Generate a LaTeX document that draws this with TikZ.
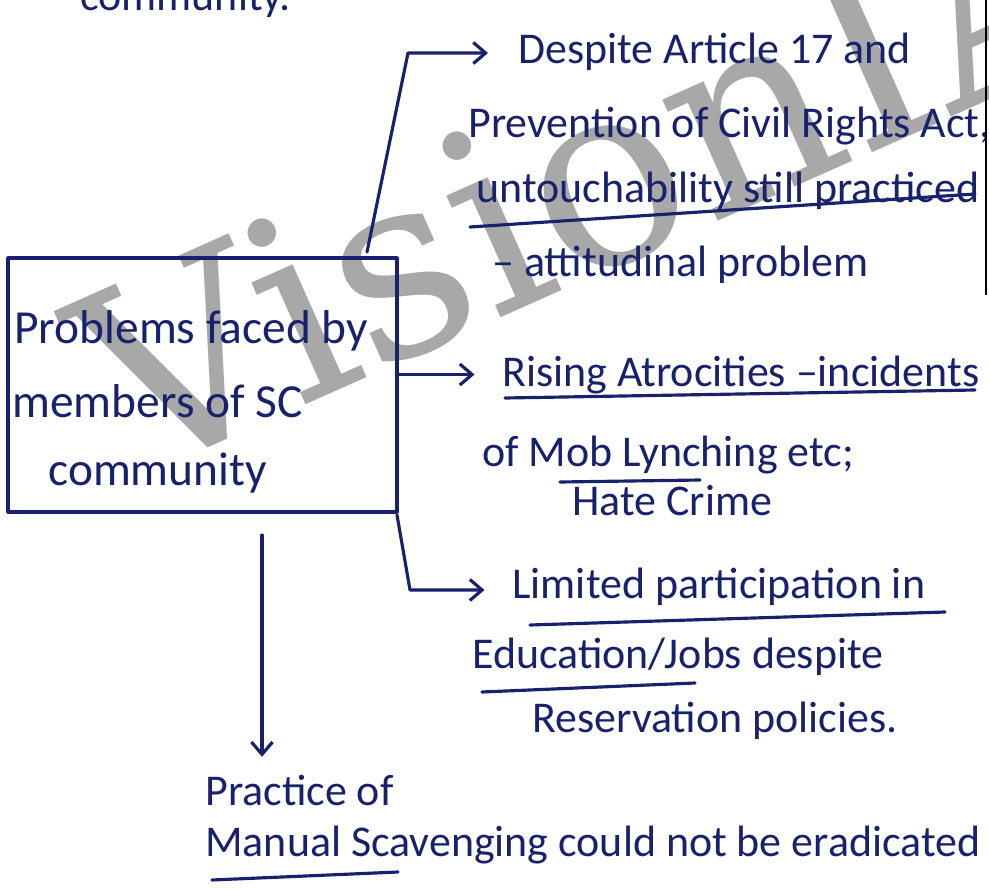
\documentclass[tikz,border=0pt]{standalone}
\usepackage{fontspec}
\setmainfont{Carlito}
\newfontfamily\wmfont{DejaVu Serif}
\usetikzlibrary{arrows.meta,fit,calc}
\definecolor{ink}{RGB}{24,34,108}
\definecolor{wmgray}{RGB}{168,168,168}
\tikzset{
  inkline/.style={draw=ink, line width=1.8pt, line cap=round, line join=round},
  conn/.style={inkline, -{Straight Barb[length=7pt,width=12pt]}},
  hand/.style={text=ink, inner sep=0pt, anchor=base west, font=\fontsize{25}{28}\selectfont},
  boxtext/.style={hand, font=\fontsize{27}{30}\selectfont},
  frame/.style={inkline, inner sep=0pt},
}
\begin{document}
\begin{tikzpicture}[x=0.02cm, y=-0.02cm]
\useasboundingbox (0,0) rectangle (989,888);
\clip (0,0) rectangle (989,888);
\fill[white] (0,0) rectangle (989,888);

% watermark
\node[rotate=24, anchor=base west, inner sep=0pt, text=wmgray,
      font=\fontsize{146}{146}\selectfont\wmfont] (wm) at (132,482) {VisionIAS};

% tail of the previous line
\node[hand] (prev) at (80,11) {community.};

% central box
\node[frame, draw=ink, fit={(8,258) (397,512)}] (box) {};
\node[boxtext] (b1) at (14,343) {Problems faced by};
\node[boxtext] (b2) at (12,417) {members of SC};
\node[boxtext] (b3) at (48,485) {community};

% first branch
\node[hand] (d1) at (518,64) {Despite Article 17 and};
\node[hand] (d2) at (468,138) {Prevention of Civil Rights Act,};
\node[hand] (d3) at (476,203) {untouchability still practiced};
\node[hand] (d4) at (492,276) {-- attitudinal problem};
\draw[inkline] (470,227) -- (975,194);

% second branch
\node[hand] (r1) at (502,386) {Rising Atrocities --incidents};
\node[hand] (r2) at (482,466) {of Mob Lynching etc;};
\node[hand] (r3) at (572,515) {Hate Crime};
\draw[inkline] (505,398) -- (975,390);
\draw[inkline] (560,482) -- (700,480);

% third branch
\node[hand] (l1) at (512,598) {Limited participation in};
\node[hand] (l2) at (472,668) {Education/Jobs despite};
\node[hand] (l3) at (532,732) {Reservation policies.};
\draw[inkline] (530,625) -- (945,612);
\draw[inkline] (482,692) -- (695,683);

% fourth branch
\node[hand] (p1) at (205,805) {Practice of};
\node[hand] (p2) at (205,856) {Manual Scavenging could not be eradicated};
\draw[inkline] (212,880) -- (398,872);

% connectors
\coordinate (c1s) at (367,252);
\coordinate (c1k) at (408,53);
\draw[conn] (c1s) -- (c1k) -- ([xshift=-0.6cm]c1k -| d1.west);

\draw[conn] (box.east |- r1.west) -- ([xshift=-0.55cm]r1.west);

\coordinate (c3s) at (397,515);
\coordinate (c3k) at (410,590);
\draw[conn] (c3s) -- (c3k) -- ([xshift=-0.55cm]c3k -| l1.west);

\coordinate (c4s) at (262,535);
\draw[conn] (c4s) -- ([yshift=0.35cm]c4s |- p1.north);

% page edge
\draw[black, line width=1.2pt] (986,0) -- (986,295);
\end{tikzpicture}
\end{document}
